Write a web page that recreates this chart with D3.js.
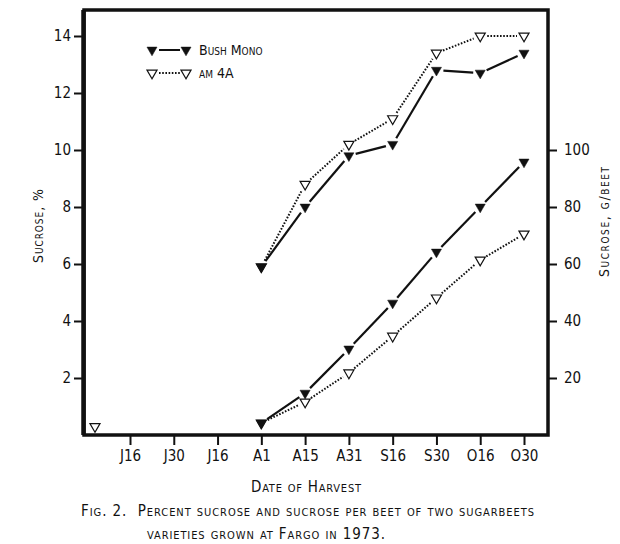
<!DOCTYPE html>
<html>
<head>
<meta charset="utf-8">
<script src="https://cdn.jsdelivr.net/npm/d3@7"></script>
<style>
  body { margin: 0; background: #fff; }
  svg text { font-family: "DejaVu Sans Condensed", "Liberation Sans Narrow", sans-serif; fill: #111; }
  .sc { font-variant: small-caps; }
</style>
</head>
<body>
<svg id="chart" width="620" height="544"></svg>
<script>
// harvest dates (1973)
const dates = ["J16", "J30", "J16", "A1", "A15", "A31", "S16", "S30", "O16", "O30"];
const harvest = ["A1", "A15", "A31", "S16", "S30", "O16", "O30"];
const harvestIdx = [3, 4, 5, 6, 7, 8, 9];

// percent sucrose
const bushPct = [5.9, 8.0, 9.8, 10.2, 12.8, 12.7, 13.4];
const amPct = [5.9, 8.8, 10.2, 11.1, 13.4, 14.0, 14.0];

// sucrose per beet, g
const bushBeet = [4.2, 14.7, 30.2, 46.3, 64.2, 80, 95.8];
const amBeet = [4.2, 11.6, 21.8, 34.7, 48.1, 61.4, 70.5];

// lone early am 4A reading (index before J16, g/beet)
const earlyIdx = [-0.8];
const earlyBeet = [3];

const leftTicks = [2, 4, 6, 8, 10, 12, 14];
const rightTicks = [20, 40, 60, 80, 100];

const svg = d3.select("#chart");
const box = { left: 84, right: 548, top: 10, bottom: 435 };

const x = d3.scaleLinear().domain([0, 9]).range([130, 524]);
const yL = d3.scaleLinear().domain([0, 14]).range([box.bottom, 36]);
const yR = d3.scaleLinear().domain([0, 140]).range([box.bottom, 36]);

// frame
svg.append("rect")
  .attr("x", box.left).attr("y", box.top)
  .attr("width", box.right - box.left).attr("height", box.bottom - box.top)
  .attr("fill", "none").attr("stroke", "#111").attr("stroke-width", 3.5);
svg.append("line")
  .attr("x1", box.left - 0.5).attr("x2", box.left - 0.5)
  .attr("y1", box.top).attr("y2", box.bottom)
  .attr("stroke", "#111").attr("stroke-width", 4.5);

// axes
const leftAxis = d3.axisLeft(yL).tickValues(leftTicks).tickSize(9).tickPadding(3);
const rightAxis = d3.axisRight(yR).tickValues(rightTicks).tickSize(8).tickPadding(7);
const bottomAxis = d3.axisBottom(x).tickValues(d3.range(dates.length))
  .tickFormat((d) => dates[d]).tickSize(9).tickPadding(5);

function styleAxis(g) {
  g.select(".domain").remove();
  g.selectAll(".tick line").attr("stroke", "#111").attr("stroke-width", 2);
  g.selectAll(".tick text").attr("font-size", 15).attr("fill", "#111");
}

svg.append("g").attr("transform", `translate(${box.left - 1},0)`).call(leftAxis).call(styleAxis);
svg.append("g").attr("transform", `translate(${box.right + 1},0)`).call(rightAxis).call(styleAxis);
svg.append("g").attr("transform", `translate(0,${box.bottom + 1})`).call(bottomAxis).call(styleAxis);

// titles
function label(t, x0, y0, size, len, rot) {
  const el = svg.append("text").attr("class", "sc")
    .attr("font-size", size)
    .attr("textLength", len).attr("lengthAdjust", "spacing")
    .attr("xml:space", "preserve")
    .text(t);
  if (rot) {
    el.attr("transform", `translate(${x0},${y0}) rotate(-90)`).attr("text-anchor", "middle");
  } else {
    el.attr("x", x0).attr("y", y0);
  }
  return el;
}
label("Sucrose, %", 43, 226, 14, 74, true);
label("Sucrose, g/beet", 609, 222, 14, 110, true);
label("Date of Harvest", 251, 492, 15, 110, false);
label("Fig. 2.  Percent sucrose and sucrose per beet of two sugarbeets", 81, 516, 15, 453, false);
label("varieties grown at Fargo in 1973.", 147, 539, 15, 238, false);

// markers
const tri = d3.symbol().type(d3.symbolTriangle).size(44);
function marker(g, px, py, filled) {
  g.append("path")
    .attr("d", tri())
    .attr("transform", `translate(${px},${py}) rotate(180)`)
    .attr("fill", filled ? "#111" : "#fff")
    .attr("stroke", "#111").attr("stroke-width", filled ? 0.5 : 1.2);
}

// line segments stopping short of each marker
function series(vals, idx, y, filled) {
  const g = svg.append("g");
  const pts = vals.map((v, i) => [x(idx[i]), y(v)]);
  const gap = 7;
  for (let i = 0; i < pts.length - 1; i++) {
    const [x0, y0] = pts[i], [x1, y1] = pts[i + 1];
    const len = Math.hypot(x1 - x0, y1 - y0);
    const ux = (x1 - x0) / len, uy = (y1 - y0) / len;
    g.append("line")
      .attr("x1", x0 + ux * gap).attr("y1", y0 + uy * gap)
      .attr("x2", x1 - ux * gap).attr("y2", y1 - uy * gap)
      .attr("stroke", "#111")
      .attr("stroke-width", filled ? 2.2 : 2)
      .attr("stroke-dasharray", filled ? null : "1.6,1.6");
  }
  pts.forEach(([px, py]) => marker(g, px, py, filled));
}

series(amPct, harvestIdx, yL, false);
series(bushPct, harvestIdx, yL, true);
series(amBeet, harvestIdx, yR, false);
series(bushBeet, harvestIdx, yR, true);
earlyBeet.forEach((v, i) => marker(svg, x(earlyIdx[i]), yR(v), false));

// legend
const leg = svg.append("g");
const legRows = [
  { y: 50, label: "Bush Mono", filled: true },
  { y: 73, label: "am 4A", filled: false }
];
legRows.forEach((r) => {
  leg.append("line")
    .attr("x1", 159).attr("x2", 180).attr("y1", r.y).attr("y2", r.y)
    .attr("stroke", "#111").attr("stroke-width", 2)
    .attr("stroke-dasharray", r.filled ? null : "1.6,1.6");
  marker(leg, 152, r.y, r.filled);
  marker(leg, 186, r.y, r.filled);
  leg.append("text").attr("class", "sc")
    .attr("x", 199).attr("y", r.y + 5).attr("font-size", 14)
    .text(r.label);
});
</script>
</body>
</html>
